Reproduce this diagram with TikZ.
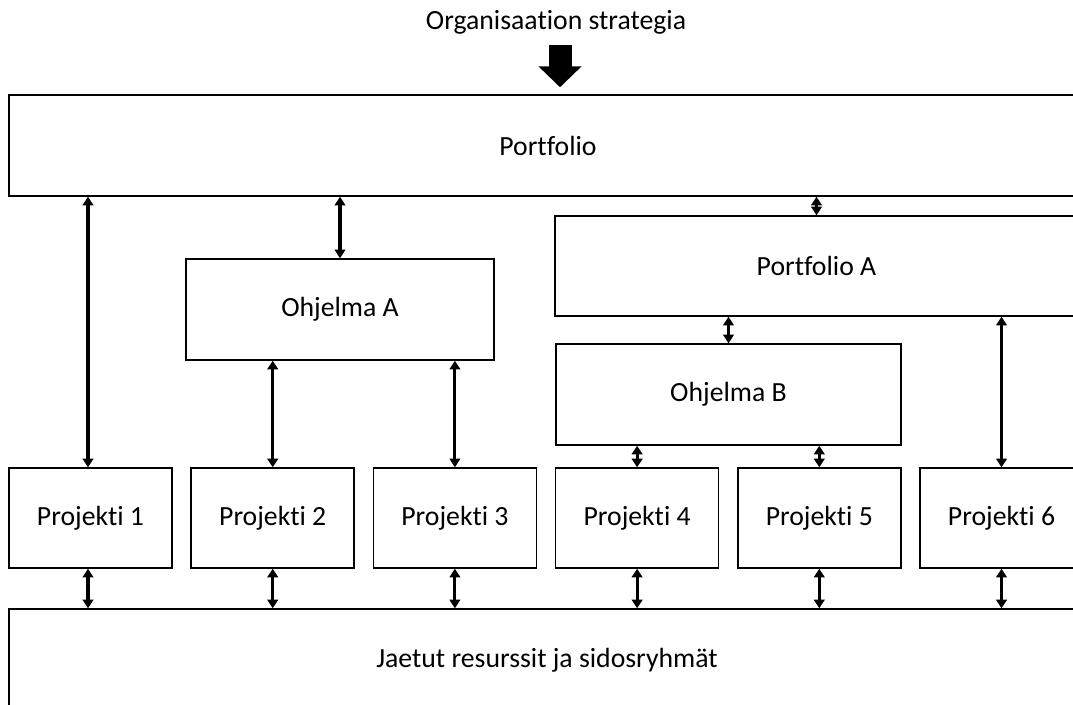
\documentclass[tikz,border=0pt]{standalone}
\usepackage{fontspec}
\setmainfont{Carlito}[Ligatures=NoCommon]
\usetikzlibrary{arrows.meta,positioning}
\tikzstyle{every unit} = []
\tikzstyle{unit} = [draw, line width=1.1pt, inner sep=0pt, minimum height=75pt, every unit]
\tikzstyle{link} = [draw, line width=2.3pt, {Triangle[width=8pt,length=6.5pt]}-{Triangle[width=8pt,length=6.5pt]}]
\tikzstyle{strat} = [draw, line width=17.25pt, -{Triangle[width=31.5pt,length=15.75pt]}]

\begin{document}
\begin{tikzpicture}[x=0.75pt, y=-0.75pt, font=\fontsize{20.8}{25}\selectfont]
                    \useasboundingbox (0,0) rectangle (1073,704);
                    \clip (0,0) rectangle (1073,704);
                    \node (strategia) at (556,22) {Organisaation strategia};
                    \node[unit, minimum width=808.5pt, minimum height=75.75pt] (portfolio) at (548,145.5) {Portfolio};
                    \coordinate (s) at (560,45);
                    \draw[strat, shorten >=5.25pt] (s) -- (s |- portfolio.north);

                    \node[unit, minimum width=392.25pt] (portfolioA) at (816.5,266) {Portfolio A};
                    \node[unit, minimum width=231pt, minimum height=75.75pt] (ohjelmaA) at (340,309.5) {Ohjelma A};
                    \node[unit, minimum width=258.75pt, minimum height=75.75pt] (ohjelmaB) at (728.5,394.5) {Ohjelma B};

                    \foreach \i in {1,...,6}
                        \node[unit, minimum width=122.25pt] (projekti\i) at ({90.5+182.2*(\i-1)},518) {Projekti \i};

                    \node[unit, minimum width=807pt, minimum height=77.25pt] (jaetut) at (547,660.5) {Jaetut resurssit ja sidosryhmät};
                    \coordinate (k1) at (88,0);

                    % portfolio
                    \draw[link] (portfolio.south -| k1) -- (projekti1.north -| k1);
                    \draw[link] (portfolio.south -| ohjelmaA.north) -- (ohjelmaA.north);
                    \draw[link] (portfolio.south -| portfolioA.north) -- (portfolioA.north);
                    % ohjelmat
                    \draw[link] (ohjelmaA.south -| projekti2.north) -- (projekti2.north);
                    \draw[link] (ohjelmaA.south -| projekti3.north) -- (projekti3.north);
                    \draw[link] (portfolioA.south -| ohjelmaB.north) -- (ohjelmaB.north);
                    \draw[link] (ohjelmaB.south -| projekti4.north) -- (projekti4.north);
                    \draw[link] (ohjelmaB.south -| projekti5.north) -- (projekti5.north);
                    \draw[link] (portfolioA.south -| projekti6.north) -- (projekti6.north);
                    % resurssit
                    \draw[link] (projekti1.south -| k1) -- (jaetut.north -| k1);
                    \foreach \i in {2,...,6}
                        \draw[link] (projekti\i.south) -- (projekti\i.south |- jaetut.north);
                \end{tikzpicture}
\end{document}
